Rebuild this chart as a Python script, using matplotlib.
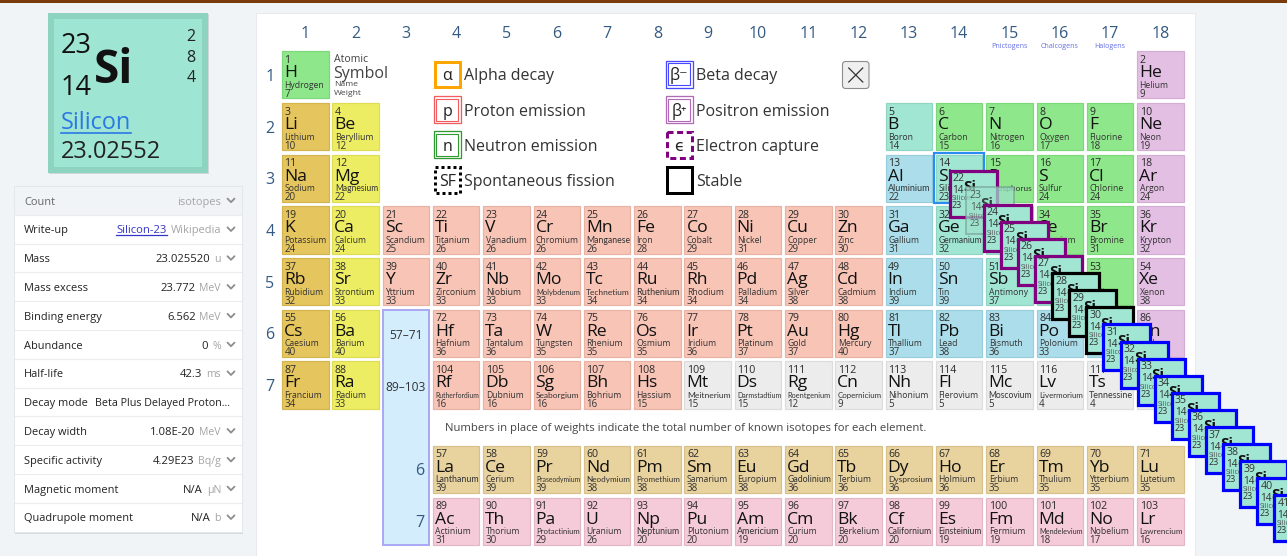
import matplotlib
matplotlib.use('Agg')
import matplotlib.pyplot as plt
from matplotlib.patches import Rectangle, FancyBboxPatch
from matplotlib import font_manager

# ---------------- data ----------------
symbols = ("H He Li Be B C N O F Ne Na Mg Al Si P S Cl Ar K Ca Sc Ti V Cr Mn Fe Co Ni Cu Zn "
           "Ga Ge As Se Br Kr Rb Sr Y Zr Nb Mo Tc Ru Rh Pd Ag Cd In Sn Sb Te I Xe Cs Ba La Ce "
           "Pr Nd Pm Sm Eu Gd Tb Dy Ho Er Tm Yb Lu Hf Ta W Re Os Ir Pt Au Hg Tl Pb Bi Po At Rn "
           "Fr Ra Ac Th Pa U Np Pu Am Cm Bk Cf Es Fm Md No Lr Rf Db Sg Bh Hs Mt Ds Rg Cn Nh Fl "
           "Mc Lv Ts Og").split()
names = ["Hydrogen", "Helium", "Lithium", "Beryllium", "Boron", "Carbon", "Nitrogen", "Oxygen",
         "Fluorine", "Neon", "Sodium", "Magnesium", "Aluminium", "Silicon", "Phosphorus", "Sulfur",
         "Chlorine", "Argon", "Potassium", "Calcium", "Scandium", "Titanium", "Vanadium", "Chromium",
         "Manganese", "Iron", "Cobalt", "Nickel", "Copper", "Zinc", "Gallium", "Germanium", "Arsenic",
         "Selenium", "Bromine", "Krypton", "Rubidium", "Strontium", "Yttrium", "Zirconium", "Niobium",
         "Molybdenum", "Technetium", "Ruthenium", "Rhodium", "Palladium", "Silver", "Cadmium", "Indium",
         "Tin", "Antimony", "Tellurium", "Iodine", "Xenon", "Caesium", "Barium", "Lanthanum", "Cerium",
         "Praseodymium", "Neodymium", "Promethium", "Samarium", "Europium", "Gadolinium", "Terbium",
         "Dysprosium", "Holmium", "Erbium", "Thulium", "Ytterbium", "Lutetium", "Hafnium", "Tantalum",
         "Tungsten", "Rhenium", "Osmium", "Iridium", "Platinum", "Gold", "Mercury", "Thallium", "Lead",
         "Bismuth", "Polonium", "Astatine", "Radon", "Francium", "Radium", "Actinium", "Thorium",
         "Protactinium", "Uranium", "Neptunium", "Plutonium", "Americium", "Curium", "Berkelium",
         "Californium", "Einsteinium", "Fermium", "Mendelevium", "Nobelium", "Lawrencium",
         "Rutherfordium", "Dubnium", "Seaborgium", "Bohrium", "Hassium", "Meitnerium", "Darmstadtium",
         "Roentgenium", "Copernicium", "Nihonium", "Flerovium", "Moscovium", "Livermorium",
         "Tennessine", "Oganesson"]
isotope_counts = [7, 9, 10, 12, 14, 15, 16, 17, 18, 19,
                  20, 22, 22, 23, 23, 24, 24, 24,
                  24, 24, 25, 26, 26, 26, 26, 28, 29, 31, 29, 30, 31, 32, 33, 32, 31, 32,
                  32, 33, 33, 33, 33, 33, 34, 34, 34, 34, 38, 38, 39, 39, 37, 39, 37, 38,
                  40, 40, 39, 39, 39, 38, 38, 38, 38, 36, 36, 36, 36, 35, 35, 35, 35,
                  36, 36, 35, 35, 35, 36, 37, 37, 40, 37, 38, 36, 33, 32, 35,
                  34, 33, 31, 30, 29, 26, 20, 20, 19, 20, 20, 20, 19, 19, 18, 17, 16,
                  16, 16, 16, 16, 15, 15, 15, 12, 9, 5, 5, 5, 4, 4, 1]
categories = (['nm', 'ng',
               'am', 'ae', 'md', 'nm', 'nm', 'nm', 'nm', 'ng',
               'am', 'ae', 'pt', 'md', 'nm', 'nm', 'nm', 'ng',
               'am', 'ae'] + ['tm'] * 10 + ['pt', 'md', 'md', 'nm', 'nm', 'ng',
               'am', 'ae'] + ['tm'] * 10 + ['pt', 'pt', 'md', 'md', 'nm', 'ng',
               'am', 'ae'] + ['la'] * 15 + ['tm'] * 9 + ['pt', 'pt', 'pt', 'pt', 'pt', 'ng',
               'am', 'ae'] + ['ac'] * 15 + ['tm'] * 5 + ['uk'] * 10)
group_labels = ['1', '2', '3', '4', '5', '6', '7', '8', '9', '10', '11', '12', '13', '14', '15',
                '16', '17', '18']
period_labels = ['1', '2', '3', '4', '5', '6', '7']
family_labels = {15: 'Pnictogens', 16: 'Chalcogens', 17: 'Halogens'}

legend_left = [('α', 'Alpha decay'), ('p', 'Proton emission'), ('n', 'Neutron emission'),
               ('SF', 'Spontaneous fission')]
legend_right = [('β⁻', 'Beta decay'), ('β⁺', 'Positron emission'), ('ϵ', 'Electron capture'),
                ('', 'Stable')]

si_masses = [22, 23, 24, 25, 26, 27, 28, 29, 30, 31, 32, 33, 34, 35, 36, 37, 38, 39, 40, 41]
si_modes = ['b+', 'sel', 'b+', 'b+', 'b+', 'b+', 'st', 'st', 'st', 'b-', 'b-', 'b-', 'b-', 'b-',
            'b-', 'b-', 'b-', 'b-', 'b-', 'b-']

prop_labels = ['Count', 'Write-up', 'Mass', 'Mass excess', 'Binding energy', 'Abundance',
               'Half-life', 'Decay mode', 'Decay width', 'Specific activity', 'Magnetic moment',
               'Quadrupole moment']
prop_values = ['', 'Silicon-23', '23.025520', '23.772', '6.562', '0', '42.3',
               'Beta Plus Delayed Proton...', '1.08E-20', '4.29E23', 'N/A', 'N/A']
prop_units = ['isotopes', 'Wikipedia', 'u', 'MeV', 'MeV', '%', 'ms', '', 'MeV', 'Bq/g', 'µN', 'b']

tile_mass, tile_z, tile_sym, tile_name, tile_weight = '23', '14', 'Si', 'Silicon', '23.02552'
tile_shells = ['2', '8', '4']

# ---------------- style ----------------
W, H = 1287, 556
plt.rcParams['font.family'] = ['Open Sans', 'DejaVu Sans']
fig = plt.figure(figsize=(W / 100, H / 100), dpi=100)
fig.patch.set_facecolor('#f1f4f7')
ax = fig.add_axes([0, 0, 1, 1])
ax.set_xlim(0, W)
ax.set_ylim(H, 0)
ax.axis('off')
R = fig.canvas.get_renderer()

available = {f.name for f in font_manager.fontManager.ttflist}
NARROW = next((f for f in ['Liberation Sans Narrow', 'Lato', 'Roboto'] if f in available), None)

cat_fill = {'am': '#e5c55e', 'ae': '#eded64', 'tm': '#f8c4b6', 'pt': '#abdeea', 'md': '#a0e6d3',
            'nm': '#8ee88b', 'ng': '#e4bfe4', 'uk': '#ececec', 'la': '#e8d29e', 'ac': '#f5cad9'}
cat_edge = {'am': '#d4b44f', 'ae': '#dcdc55', 'tm': '#e8b2a4', 'pt': '#98cedb', 'md': '#8ed6c2',
            'nm': '#7cd879', 'ng': '#d3add3', 'uk': '#dcdcdc', 'la': '#d8c08b', 'ac': '#e4b7c7'}

X0, PX_ = 281.5, 50.3
Y0, PY_ = 50.7, 51.67
CW, CH = 47.5, 48.3
FROW_Y = {9: 445.0, 10: 497.0}
LABEL_C = '#345a82'


def T(x, y, s, px, color='#222', ha='left', va='baseline', weight='normal', z=3, **kw):
    return ax.text(x, y, s, fontsize=px * 0.72, color=color, ha=ha, va=va,
                   fontweight=weight, zorder=z, **kw)


def width(t):
    return t.get_window_extent(renderer=R).width


def fit(t, maxw):
    w = width(t)
    if w > maxw:
        t.set_fontsize(t.get_fontsize() * maxw / w)
    return t


def fit_name(t, maxw):
    if width(t) > maxw and NARROW:
        t.set_fontfamily([NARROW, 'DejaVu Sans'])
        t.set_fontsize(t.get_fontsize() * 1.05)
    return fit(t, maxw)


def rect(x, y, w, h, fc='none', ec='none', lw_px=0, z=1, **kw):
    p = Rectangle((x, y), w, h, facecolor=fc, edgecolor=ec, linewidth=lw_px * 0.72, zorder=z, **kw)
    ax.add_patch(p)
    return p


starts = [1, 3, 11, 19, 37, 55, 87, 119]


def grid_pos(z):
    for p in range(7):
        if starts[p] <= z < starts[p + 1]:
            period, n = p + 1, z - starts[p]
            break
    if period == 1:
        return (1 if z == 1 else 18), 1
    if period in (2, 3):
        col = n + 1 if n < 2 else n + 11
    elif period in (4, 5):
        col = n + 1
    else:
        if n < 2:
            col = n + 1
        elif n <= 16:
            return n + 2, period + 3
        else:
            col = n - 13
    return col, period


def cell_xy(col, row):
    x = X0 + (col - 1) * PX_
    y = FROW_Y[row] if row in FROW_Y else Y0 + (row - 1) * PY_
    return x, y


# ---------------- page chrome ----------------
rect(0, 0, W, 3, fc='#7a3a0c', z=5)
rect(257, 14, 939, 560, fc='#dde2e7', z=0.4)
rect(256, 13, 939, 560, fc='white', ec='#e6e9ed', lw_px=1, z=0.5)

# ---------------- left tile ----------------
rect(49, 14, 160, 160, fc='#cfd8d6', z=0.8)
rect(48, 13, 160, 160, fc='#8ed3c0', z=1)
rect(54, 19, 148, 148, fc='#9fe5d3', z=1.1)
T(61, 53, tile_mass, 27, color='#111')
T(61, 95, tile_z, 27, color='#111')
T(94, 83, tile_sym, 46, color='#111', weight='bold')
for i, s in enumerate(tile_shells):
    T(191, 41 + i * 20.5, s, 16, color='#222', ha='center')
tn = T(61, 129, tile_name, 23.5, color='#2b78e4')
ax.plot([61, 61 + width(tn)], [133, 133], color='#2b78e4', lw=1.2, zorder=3)
T(61, 158, tile_weight, 23.5, color='#222')

# ---------------- properties panel ----------------
P_X, P_Y, P_W, P_RH = 14, 186, 228, 28.8
rect(P_X + 1, P_Y + 2, P_W, P_RH * 12, fc='#d5dadf', z=0.8)
rect(P_X, P_Y, P_W, P_RH * 12, fc='white', ec='#e3e6ea', lw_px=1, z=1)
rect(P_X + 0.5, P_Y + 0.5, P_W - 1, P_RH, fc='#f1f4f7', z=1.1)
for i, lab in enumerate(prop_labels):
    cy = P_Y + (i + 0.5) * P_RH
    if i > 0:
        ax.plot([P_X + 1, P_X + P_W - 1], [P_Y + i * P_RH] * 2, color='#ececec', lw=0.8, zorder=1.2)
    base = cy + 4.2
    T(24, base, lab, 11.0, color='#666' if i == 0 else '#222')
    if lab == 'Decay mode':
        dv = T(95, base, prop_values[i], 11.0, color='#222')
        fit(dv, 137)
        continue
    # chevron
    ax.plot([227.5, 231, 234.5], [cy - 1.8, cy + 1.8, cy - 1.8], color='#8d8d8d', lw=1.3,
            zorder=3, solid_capstyle='round')
    ut = T(221, base, prop_units[i], 11.0 if i < 2 else 10.5, color='#a5a5a5', ha='right')
    uw = width(ut)
    if prop_values[i]:
        link = (i == 1)
        vt = T(221 - uw - 4, base, prop_values[i], 11.3,
               color='#3434c8' if link else '#222', ha='right')
        if link:
            vw = width(vt)
            ax.plot([221 - uw - 4 - vw, 221 - uw - 4], [base + 2, base + 2], color='#3434c8',
                    lw=0.9, zorder=3)

# ---------------- group / period labels ----------------
for g, lab in enumerate(group_labels, start=1):
    T(X0 + (g - 1) * PX_ + CW / 2, 38, lab, 16, color=LABEL_C, ha='center')
for g, lab in family_labels.items():
    T(X0 + (g - 1) * PX_ + CW / 2, 47.5, lab, 7.2, color='#6470e6', ha='center')
for p, lab in enumerate(period_labels, start=1):
    T(270, Y0 + (p - 1) * PY_ + CH / 2 + 6, lab, 16, color=LABEL_C, ha='center')

# ---------------- element cells ----------------
for i, sym in enumerate(symbols):
    z = i + 1
    col, row = grid_pos(z)
    x, y = cell_xy(col, row)
    c = categories[i]
    rect(x + 0.5, y + 0.5, CW - 1, CH - 1, fc=cat_fill[c], ec=cat_edge[c], lw_px=1.2, z=1)
    T(x + 3, y + 12.3, str(z), 10.5, color='#2a2a2a')
    T(x + 2.5, y + 26.5, sym, 17.5, color='#111')
    nt = T(x + 3, y + 37.3, names[i], 8.6, color='#333')
    fit_name(nt, CW - 4)
    T(x + 3, y + 46.3, str(isotope_counts[i]), 9.8, color='#333')
    if sym == 'Si':
        rect(x - 1, y - 1, CW + 2, CH + 2, ec='#2a8cf2', lw_px=2.2, z=2)

# placeholder for f-block
px_, py_ = cell_xy(3, 6)
rect(px_ + 0.5, py_ + 0.5, CW - 1, FROW_Y[10] + CH - py_ - 1, fc='#d3edfc', ec='#a9a9f4',
     lw_px=2, z=1)
T(px_ + CW / 2, py_ + 30, '57–71', 12, color='#333', ha='center')
T(px_ + CW / 2, py_ + PY_ + 30, '89–103', 12, color='#333', ha='center')
T(px_ + 38, FROW_Y[9] + CH / 2 + 6, '6', 16, color=LABEL_C, ha='center')
T(px_ + 38, FROW_Y[10] + CH / 2 + 6, '7', 16, color=LABEL_C, ha='center')

note = T(445, 431, 'Numbers in place of weights indicate the total number of known isotopes for each element.',
         11.5, color='#444')
fit(note, 478)

# key
T(334, 62.5, 'Atomic', 10.5, color='#444')
T(333, 78, 'Symbol', 16, color='#444')
T(334, 86.5, 'Name', 8.5, color='#444')
T(334, 95, 'Weight', 8.5, color='#444')

# ---------------- legend ----------------
BOX = 28.5
rows_y = [60, 95.5, 130.5, 165.5]


def double_box(x, y, color):
    rect(x + 0.7, y + 0.7, BOX - 1.4, BOX - 1.4, ec=color, lw_px=1.3, z=2)
    rect(x + 3.3, y + 3.3, BOX - 6.6, BOX - 6.6, ec=color, lw_px=1.1, z=2)


styles_left = [('solid', '#ffa500'), ('double', '#f25c5c'), ('double', '#2f9a2f'), ('dotted', '#000')]
styles_right = [('double', '#4848ff'), ('double', '#b06ab8'), ('dashed', '#800080'), ('solid', '#000')]
for (lx, items, styles) in [(433, legend_left, styles_left), (665, legend_right, styles_right)]:
    for j, ((sym, lab), (st, colr)) in enumerate(zip(items, styles)):
        y = rows_y[j]
        if st == 'double':
            double_box(lx, y, colr)
        elif st == 'solid':
            rect(lx + 1.5, y + 1.5, BOX - 3, BOX - 3, ec=colr, lw_px=3, z=2)
        elif st == 'dotted':
            rect(lx + 1.5, y + 1.5, BOX - 3, BOX - 3, ec=colr, lw_px=3, z=2, linestyle=(0, (1, 1)))
        else:
            rect(lx + 1.5, y + 1.5, BOX - 3, BOX - 3, ec=colr, lw_px=3, z=2, linestyle=(0, (2, 1.2)))
        if sym:
            T(lx + BOX / 2, y + BOX / 2 + 6, sym, 16, color='#222', ha='center')
        T(lx + BOX + 3, y + BOX / 2 + 6, lab, 16, color='#333')

# close button
btn = FancyBboxPatch((842.5, 61.5), 26.5, 27, boxstyle='round,pad=0,rounding_size=3',
                     facecolor='#efefef', edgecolor='#8c8c8c', linewidth=0.8, zorder=2)
ax.add_patch(btn)
bx, by = 842.5 + 13.25, 61.5 + 13.5
ax.plot([bx - 7, bx + 7], [by - 7, by + 7], color='#333', lw=0.9, zorder=3)
ax.plot([bx - 7, bx + 7], [by + 7, by - 7], color='#333', lw=0.9, zorder=3)

# ---------------- silicon isotope cascade ----------------
ISO_X, ISO_Y, ISO_STEP = 948.0, 169.0, 17.1
mode_color = {'b+': '#800080', 'st': '#000000', 'b-': '#0000ff', 'sel': '#8aa39b'}
for k, (m, mode) in enumerate(zip(si_masses, si_modes)):
    ox, oy = ISO_X + k * ISO_STEP, ISO_Y + k * ISO_STEP
    zb = 10 + 2 * k
    if mode == 'sel':
        rect(ox + 1, oy + 1, 48, 47, fc=(0.62, 0.88, 0.80, 0.72), ec=(0.45, 0.6, 0.55, 0.55),
             lw_px=2, z=zb)
        a = 0.75
    else:
        rect(ox + 1.5, oy + 1.5, 47, 46, fc='#a0e6d3', ec=mode_color[mode], lw_px=3.2, z=zb)
        a = 1.0
    T(ox + 4.5, oy + 12, str(m), 10.5, color='#333', z=zb + 1, alpha=a)
    T(ox + 15.5, oy + 22, 'Si', 15, color='#111', weight='bold', z=zb + 1, alpha=a)
    T(ox + 4.5, oy + 24, '14', 10, color='#333', z=zb + 1, alpha=a)
    T(ox + 4, oy + 31.5, 'Silicon', 7.2, color='#555', z=zb + 1, alpha=a)
    T(ox + 4, oy + 39.5, '23', 9, color='#333', z=zb + 1, alpha=a)

fig.savefig('out.png', dpi=100, facecolor=fig.get_facecolor())
